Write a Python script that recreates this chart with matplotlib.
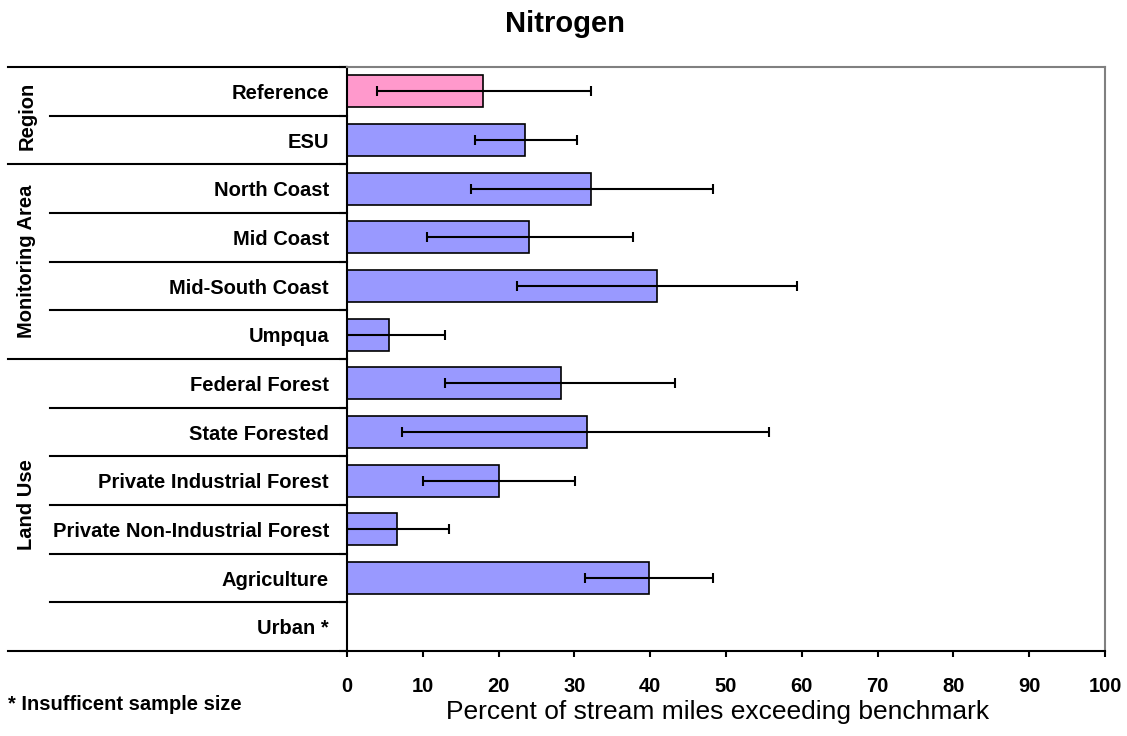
import numpy as np
import matplotlib
matplotlib.use("Agg")
import matplotlib.pyplot as plt
import matplotlib.transforms as mtransforms

plt.rcParams['font.family'] = ['Liberation Sans', 'DejaVu Sans']

categories = ["Reference", "ESU", "North Coast", "Mid Coast", "Mid-South Coast", "Umpqua",
              "Federal Forest", "State Forested", "Private Industrial Forest",
              "Private Non-Industrial Forest", "Agriculture", "Urban *"]
values = [18.0, 23.5, 32.2, 24.0, 40.9, 5.5, 28.2, 31.7, 20.1, 6.6, 39.9, np.nan]
ci_low = [3.9, 16.9, 16.3, 10.6, 22.4, 0.0, 12.9, 7.3, 10.0, 0.0, 31.4, np.nan]
ci_high = [32.2, 30.3, 48.3, 37.7, 59.4, 12.9, 43.3, 55.7, 30.1, 13.5, 48.3, np.nan]
colors = ["#FF99CC"] + ["#9999FF"] * 11

groups = ["Region", "Monitoring Area", "Land Use"]
group_sizes = [2, 4, 6]

fig = plt.figure(figsize=(11.27, 7.36), dpi=100)
ax = fig.add_axes([347 / 1127, 1 - 651 / 736, 758 / 1127, 584 / 736])

y = np.arange(len(categories))
vals = np.array(values)
err = np.array([vals - np.array(ci_low), np.array(ci_high) - vals])

ax.barh(y, np.nan_to_num(vals), height=0.66, color=colors, edgecolor="black", linewidth=1.2, zorder=2)
ax.errorbar(vals, y, xerr=err, fmt="none", ecolor="black", elinewidth=1.5,
            capsize=3.3, capthick=1.5, zorder=3)

ax.set_xlim(0, 100)
ax.set_ylim(len(categories) - 0.5, -0.5)
ax.set_xticks(np.arange(0, 101, 10))
ax.tick_params(axis="x", length=4, width=1.5, pad=15, labelsize=14.5)
for lab in ax.get_xticklabels():
    lab.set_fontweight("bold")

# category labels at centres, tick marks at boundaries
ax.set_yticks(y)
ax.set_yticklabels(categories, fontsize=14.5, fontweight="bold")
ax.tick_params(axis="y", which="major", length=0, pad=13)
ax.set_yticks(np.arange(-0.5, len(categories)), minor=True)
ax.tick_params(axis="y", which="minor", length=6, width=1.5)

for side in ["left", "bottom"]:
    ax.spines[side].set_linewidth(1.5)
    ax.spines[side].set_color("black")
for side in ["top", "right"]:
    ax.spines[side].set_linewidth(1.5)
    ax.spines[side].set_color("#808080")

# table lines to the left of the axis
trans = mtransforms.blended_transform_factory(ax.transAxes, ax.transData)
x_inner = (50 - 347) / 758
x_outer = (8 - 347) / 758
bounds = np.cumsum([0] + group_sizes) - 0.5
for b in np.arange(-0.5, len(categories) + 0.5):
    x0 = x_outer if b in bounds else x_inner
    ax.plot([x0, 0], [b, b], color="black", lw=1.5, transform=trans, clip_on=False)

for g, lo, hi in zip(groups, bounds[:-1], bounds[1:]):
    ax.text((27 - 347) / 758, (lo + hi) / 2, g, transform=trans, rotation=90,
            ha="center", va="center", fontsize=14.5, fontweight="bold")

fig.text(565 / 1127, 1 - 24 / 736, "Nitrogen", ha="center", va="center",
         fontsize=21, fontweight="bold")
fig.text(718 / 1127, 1 - 712 / 736, "Percent of stream miles exceeding benchmark",
         ha="center", va="center", fontsize=19)
fig.text(8 / 1127, 1 - 704 / 736, "* Insufficent sample size", ha="left", va="center",
         fontsize=14.5, fontweight="bold")

fig.savefig("out.png", dpi=100)
